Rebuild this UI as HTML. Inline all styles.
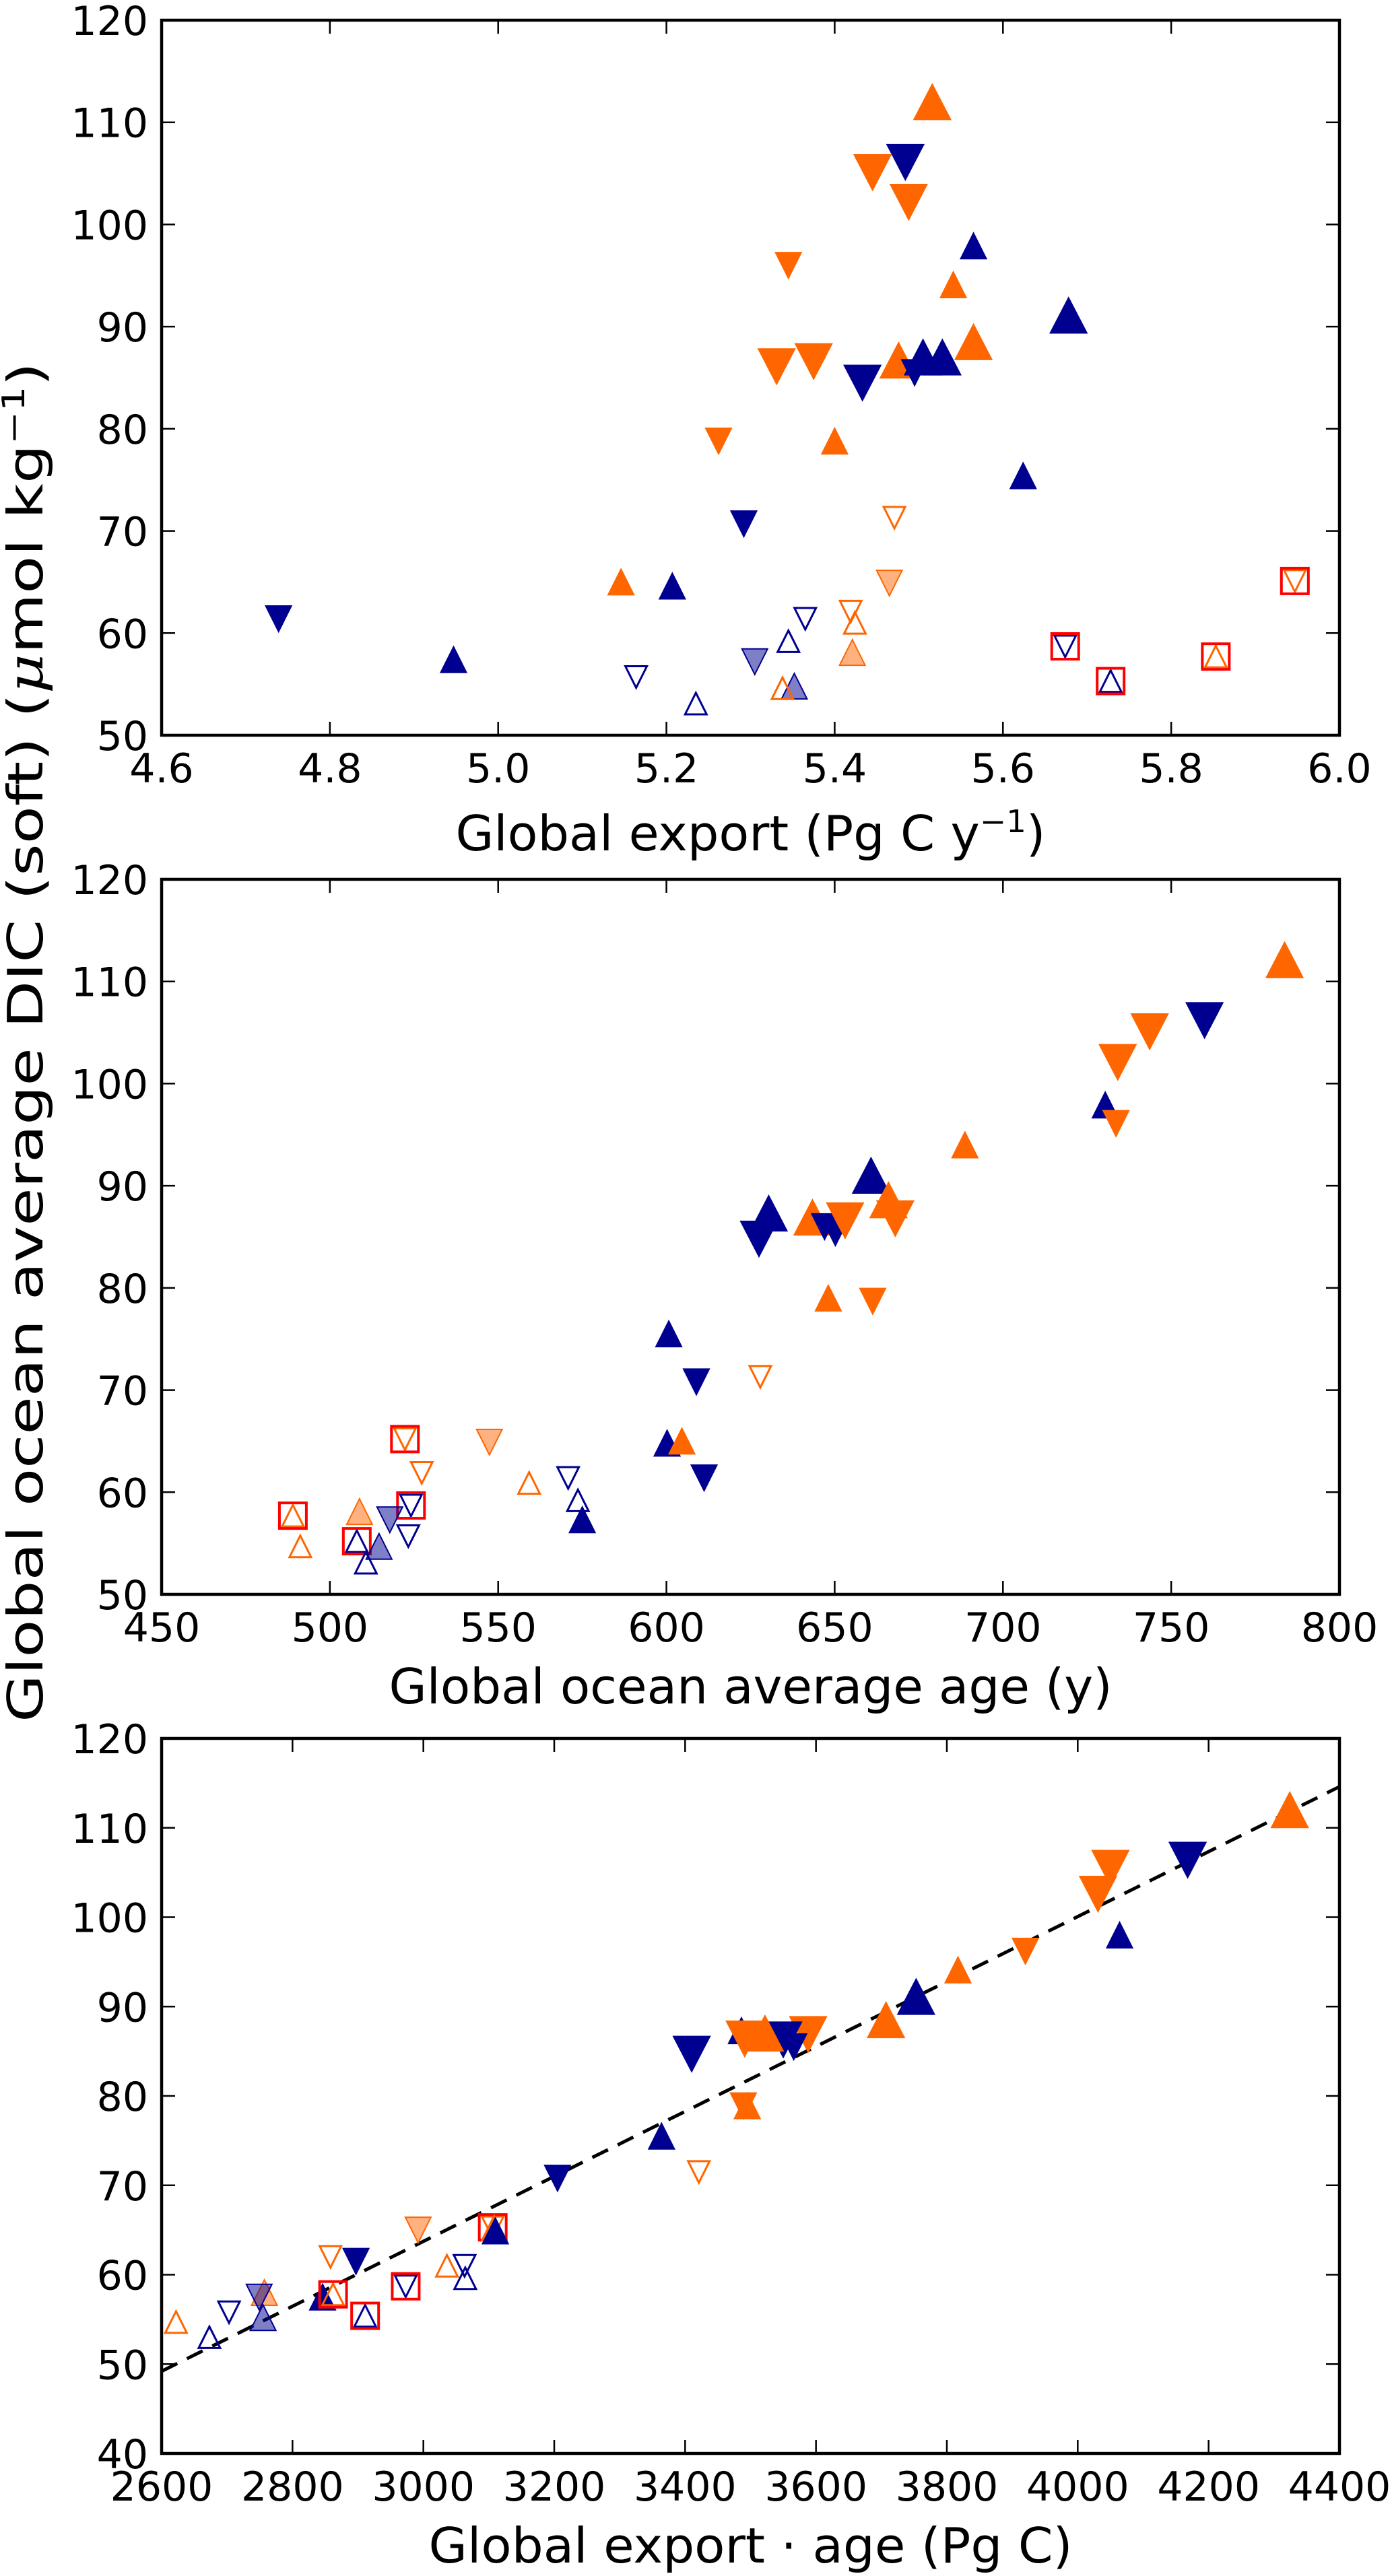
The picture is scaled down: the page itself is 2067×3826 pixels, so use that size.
<!DOCTYPE html>
<html><head><meta charset="utf-8"><style>
html,body{margin:0;padding:0;background:#fff;}
svg{display:block;font-family:"DejaVu Sans","Liberation Sans",sans-serif;}
</style></head><body>
<svg id="fig" width="2067" height="3826" viewBox="0 0 2067 3826" xmlns="http://www.w3.org/2000/svg">
<text transform="translate(63,1548) rotate(-90)" text-anchor="middle" font-size="72" textLength="2020" lengthAdjust="spacingAndGlyphs">Global ocean average DIC (soft) (<tspan font-style="italic" font-family="DejaVu Serif, serif">μ</tspan>mol kg<tspan baseline-shift="super" font-size="46">−1</tspan>)</text>
</svg>
<script>
// ---------- Panel 1: export vs DIC ----------
const p1X = [5.516,5.484,5.445,5.488,5.565,5.345,5.541,5.678,5.565,5.331,5.375,5.433,5.476,5.495,5.505,5.528,5.262,5.40,5.624,5.292,5.471,5.146,5.207,5.465,5.947,4.739,5.419,5.424,5.365,5.345,5.421,5.674,5.305,4.947,5.853,5.164,5.352,5.338,5.728,5.235];
const p1Y = [112.0,106.1,105.1,102.2,97.9,96.0,94.1,91.1,88.5,86.1,86.6,84.5,86.7,85.5,87.0,87.0,78.8,78.8,75.4,70.7,71.3,65.0,64.6,64.9,65.1,61.4,62.1,61.0,61.4,59.2,58.1,58.7,57.2,57.4,57.7,55.7,54.8,54.6,55.3,53.1];
const p1M = ["ouL","ndL","odL","odL","nuM","odM","ouM","nuL","ouL","odL","odL","ndL","ouL","ndM","nuL","nuL","odM","ouM","nuM","ndM","odO","ouM","nuM","odH","odR","ndM","odO","ouO","ndO","nuO","ouH","ndR","ndH","nuM","ouR","ndO","nuH","ouO","nuR","nuO"];
// ---------- Panel 2: age vs DIC ----------
const p2X = [783.7,759.9,743.6,734.1,730.4,733.6,688.7,660.8,666.0,668.0,627.5,630.4,643.4,647.0,650.2,653.1,648.1,661.3,600.7,608.9,627.9,600.2,604.6,522.3,547.4,527.3,611.2,559.2,570.8,573.7,575.0,524.1,508.8,517.8,489.0,523.3,508.0,514.6,491.2,510.7];
const p2Y = [112.1,106.2,105.1,102.1,97.9,96.1,94.0,91.0,88.6,86.8,84.8,87.3,86.9,86.0,85.4,86.6,79.0,78.7,75.5,70.8,71.3,64.8,65.0,65.2,64.9,61.9,61.4,60.9,61.4,59.2,57.3,58.7,58.1,57.3,57.7,55.7,55.2,54.7,54.7,53.1];
const p2M = ["ouL","ndL","odL","odL","nuM","odM","ouM","nuL","ouL","odL","ndL","nuL","ouL","ndM","ndM","odL","ouM","odM","nuM","ndM","odO","nuM","ouM","odR","odH","odO","ndM","ouO","ndO","nuO","nuM","ndR","ouH","ndH","ouR","ndO","nuR","nuH","ouO","nuO"];
// ---------- Panel 3: export*age vs DIC ----------
const p3X = [4324,4168,4050,4031,4064,3920,3817,3753,3707,3588,3550,3566,3486,3491,3522,3410,3495,3489,3364,3421,3205,2992,3106,3108,3110,2858,2897,3036,3063,3064,2973,2846,2862,2757,2749,2703,2755,2911,2622,2673];
const p3Y = [112.0,106.4,105.5,102.6,98.0,96.2,94.1,91.1,88.5,86.9,86.3,85.5,87.3,86.4,87.0,84.7,78.9,78.9,75.5,71.5,70.8,65.0,65.3,65.2,64.9,62.0,61.5,61.0,61.0,59.6,58.7,57.5,57.8,58.0,57.5,55.8,55.2,55.4,54.7,53.0];
const p3M = ["ouL","ndL","odL","odL","nuM","odM","ouM","nuL","ouL","odL","ndL","ndM","nuM","odL","ouL","ndL","ouM","odM","nuM","odO","ndM","odH","odR","ouM","nuM","odO","ndM","ouO","ndO","nuO","ndR","nuM","ouR","ouH","ndH","ndO","nuH","nuR","ouO","nuO"];
const fitX = [2600, 4400];
const fitY = [49.2, 114.6];

const NS = "http://www.w3.org/2000/svg";
const svg = document.getElementById("fig");
const NAVY = "#000090", ORANGE = "#ff6600";
function mk(tag, attrs, parent){
  const e = document.createElementNS(NS, tag);
  for (const k in attrs) e.setAttribute(k, attrs[k]);
  (parent||svg).appendChild(e);
  return e;
}
const L = 240, R = 1989, W = R - L, H = 1062;

function panel(idx, top, xmin, xmax, ymin, ymax, xticks, yticks, xfmt, xs, ys, ms, xlabel, xlabelW, xlabelY){
  const g = mk("g", {});
  
  
  const sx = v => L + (v - xmin) / (xmax - xmin) * W;
  const sy = v => top + H - (v - ymin) / (ymax - ymin) * H;
  // ticks & labels
  for (const t of xticks){
    const x = sx(t);
    const tk = mk("path", {d:`M${x},${top+H}v-20M${x},${top}v20`, stroke:"#000", "stroke-width":2.5}, g);
    
    
    const lb = mk("text", {x:x, y:top+H+70, "text-anchor":"middle", "font-size":60}, g);
    lb.textContent = xfmt(t);
    
    
  }
  for (const t of yticks){
    const y = sy(t);
    const tk = mk("path", {d:`M${L},${y}h20M${R},${y}h-20`, stroke:"#000", "stroke-width":2.5}, g);
    
    
    const lb = mk("text", {x:220, y:y+22, "text-anchor":"end", "font-size":60}, g);
    lb.textContent = String(t);
    
    
  }
  // fit line
  if (idx === 3){
    const ln = mk("line", {x1:sx(fitX[0]), y1:sy(fitY[0]), x2:sx(fitX[1]), y2:sy(fitY[1]), stroke:"#000", "stroke-width":5, "stroke-dasharray":"26,16"}, g);
    
    
  }
  // markers
  for (let i = 0; i < xs.length; i++){
    const m = ms[i], cx = sx(xs[i]), cy = sy(ys[i]);
    const col = m[0] === "n" ? NAVY : ORANGE;
    const up = m[1] === "u";
    const st = m[2];
    let hw, hh, fill, sw = 2, op = 1;
    if (st === "L"){ hw = 27; hh = 26; fill = col; }
    else if (st === "M"){ hw = 19; hh = 19; fill = col; }
    else if (st === "H"){ hw = 19; hh = 19; fill = col; op = 0.5; }
    else { hw = 16; hh = 16; fill = "none"; sw = 3; }
    const d = up
      ? `M${cx},${cy-hh}L${cx+hw},${cy+hh}L${cx-hw},${cy+hh}Z`
      : `M${cx},${cy+hh}L${cx+hw},${cy-hh}L${cx-hw},${cy-hh}Z`;
    if (st === "H"){
      const f = mk("path", {d:d, fill:col, "fill-opacity":0.5, stroke:"none"}, g);
      
      
      fill = "none";
    }
    const p = mk("path", {d:d, fill:fill, stroke:col, "stroke-width":sw, "stroke-linejoin":"miter"}, g);
    
    
    if (st === "R"){
      const s = mk("rect", {x:cx-20, y:cy-19, width:40, height:38, fill:"none", stroke:"#ff0000", "stroke-width":4}, g);
      
      
    }
  }
  // frame
  const fr = mk("rect", {x:L, y:top, width:W, height:H, fill:"none", stroke:"#000", "stroke-width":4.5}, g);
  
  
  // x label
  const xl = mk("text", {x:(L+R)/2, y:xlabelY, "text-anchor":"middle", "font-size":72, textLength:xlabelW, lengthAdjust:"spacingAndGlyphs"}, g);
  
  
  xl.innerHTML = xlabel;
}
const range = (a,b,s) => { const r=[]; for(let v=a; v<=b+1e-9; v+=s) r.push(Math.round(v*100)/100); return r; };
panel(1, 30, 4.6, 6.0, 50, 120, range(4.6,6.0,0.2), range(50,120,10), v=>v.toFixed(1), p1X, p1Y, p1M,
  'Global export (Pg C y<tspan baseline-shift="super" font-size="46">−1</tspan>)', 876, 1263);
panel(2, 1306, 450, 800, 50, 120, range(450,800,50), range(50,120,10), v=>String(v), p2X, p2Y, p2M,
  'Global ocean average age (y)', 1074, 2530);
panel(3, 2582, 2600, 4400, 40, 120, range(2600,4400,200), range(40,120,10), v=>String(v), p3X, p3Y, p3M,
  'Global export · age (Pg C)', 956, 3806);
</script>
</body></html>
